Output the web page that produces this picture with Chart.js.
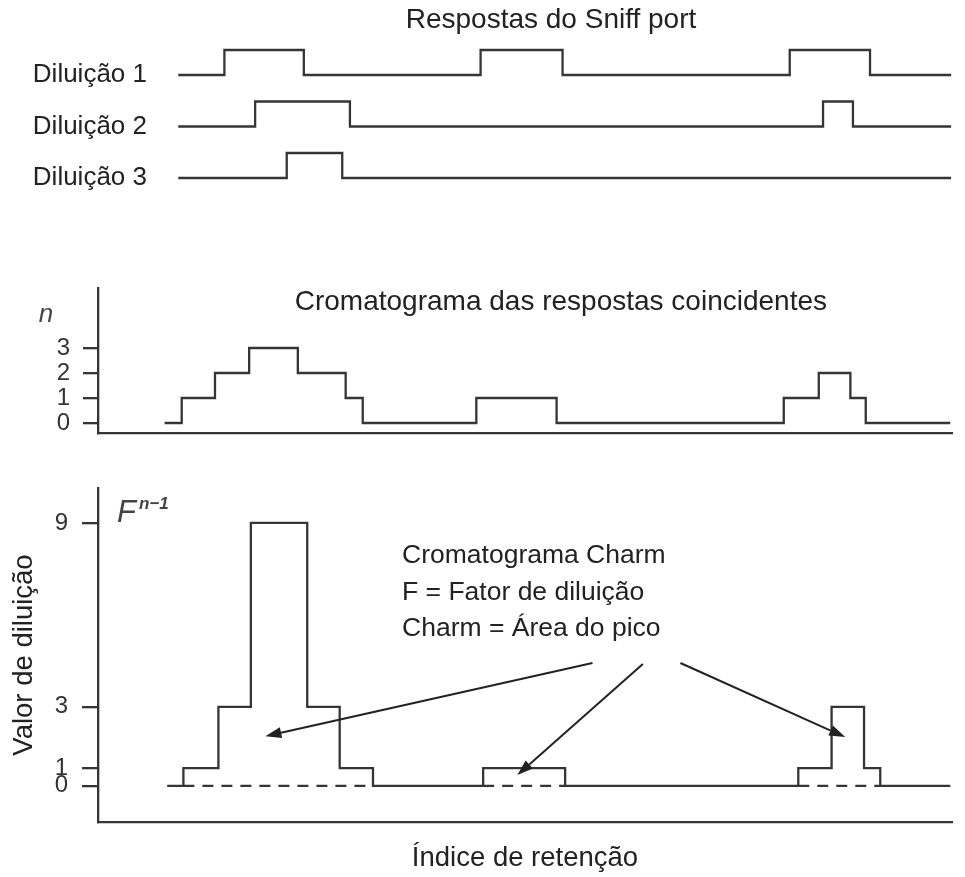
<!DOCTYPE html>
<html><head><meta charset="utf-8">
<script src="https://cdn.jsdelivr.net/npm/chart.js@4.4.1/dist/chart.umd.min.js"></script>
<style>
html,body{margin:0;padding:0;background:#fff;}
#wrap{position:relative;width:965px;height:877px;overflow:hidden;background:#fff;}
canvas{position:absolute;left:0;}
</style></head><body>
<div id="wrap">
<canvas id="c1" width="965" height="200" style="top:0px"></canvas>
<canvas id="c2" width="965" height="245" style="top:200px"></canvas>
<canvas id="c3" width="965" height="432" style="top:445px"></canvas>
</div>
<script>
// ---------------- data ----------------
const TITLE_TOP = 'Respostas do Sniff port';
const TITLE_MID = 'Cromatograma das respostas coincidentes';
const DILUTION_LABELS = ['Diluição 1', 'Diluição 2', 'Diluição 3'];
// retention index (arbitrary units) where each level starts; level holds until next breakpoint
const DIL1_X = [9.4, 14.8, 24.1, 44.8, 54.4, 81.0, 90.4, 99.9];
const DIL1_R = [0, 1, 0, 1, 0, 1, 0, 0];
const DIL2_X = [9.4, 18.4, 29.5, 84.9, 88.4, 99.9];
const DIL2_R = [0, 1, 0, 1, 0, 0];
const DIL3_X = [9.4, 22.1, 28.6, 99.9];
const DIL3_R = [0, 1, 0, 0];
const N_X   = [7.8, 9.8, 13.7, 17.7, 23.4, 29.0, 31.0, 44.3, 53.7, 80.3, 84.4, 88.1, 89.9, 99.8];
const N_VAL = [0, 1, 2, 3, 2, 1, 0, 1, 0, 1, 2, 1, 0, 0];
const N_TICKS = [0, 1, 2, 3];
const CHARM_X   = [8.1, 10.0, 14.1, 17.9, 24.5, 28.3, 32.2, 45.1, 54.7, 82.0, 85.9, 89.7, 91.6, 99.8];
const CHARM_VAL = [0, 1, 3, 9, 3, 1, 0, 1, 0, 1, 3, 1, 0, 0];
const CHARM_TICKS = [0, 1, 3, 9];
const NOTE_LINES = ['Cromatograma Charm', 'F = Fator de diluição', 'Charm = Área do pico'];
const X_TITLE = 'Índice de retenção';
const Y_TITLE = 'Valor de diluição';

// ---------------- annotation placement (data coordinates) ----------------
const MID_TITLE_AT = {x: 54.2, y: 4.84};
const NOTE_AT = {x: 35.6, y: [7.69, 6.50, 5.32]};
const ARROWS = [
  {from: {x: 57.9, y: 4.43}, to: {x: 19.6, y: 2.04}},
  {from: {x: 63.8, y: 4.40}, to: {x: 49.1, y: 0.77}},
  {from: {x: 68.2, y: 4.43}, to: {x: 87.5, y: 2.01}}
];

// ---------------- layout / style ----------------
const X_MIN = 0, X_MAX = 100;
const PLOT_LEFT = 98, PLOT_RIGHT = 952, CANVAS_W = 965;
const LINE = '#353535';
const LW = 2.3;
const FONT = '"Liberation Sans", Arial, sans-serif';
const TXT = '#222';
const ZERO_POS = 0.42; // where the "0" baseline sits on the Charm axis (drawn below level 1)

const steps = (xs, vs, f) => xs.map((x, i) => ({x: x, y: f ? f(vs[i]) : vs[i]}));
const fixWidth = w => s => { s.width = w; s.paddingTop = 0; s.paddingBottom = 0; };
const common = {
  responsive: false, maintainAspectRatio: false, animation: false, events: [],
  elements: {point: {radius: 0}, line: {tension: 0}}
};

// ---------------- chart 1: sniff port responses ----------------
const C1_LEFT = 150;
const xMinTop = X_MIN + (C1_LEFT - PLOT_LEFT) / (PLOT_RIGHT - PLOT_LEFT) * (X_MAX - X_MIN);
const dils = [[DIL1_X, DIL1_R], [DIL2_X, DIL2_R], [DIL3_X, DIL3_R]];
const scales1 = {x: {type: 'linear', min: xMinTop, max: X_MAX, display: false}};
// left stacked axes are placed bottom-up in definition order, so define the last dilution first
for (let i = dils.length - 1; i >= 0; i--) {
  scales1['y' + i] = {
    type: 'linear', position: 'left', stack: 'dil', stackWeight: 1,
    min: -0.66, max: 1.4,
    afterFit: fixWidth(C1_LEFT),
    afterBuildTicks: s => { s.ticks = [{value: 0}]; },
    ticks: {autoSkip: false, padding: 3, color: TXT, font: {family: FONT, size: 26},
            callback: () => DILUTION_LABELS[i]},
    grid: {display: false, drawTicks: false},
    border: {display: false}
  };
}
new Chart(document.getElementById('c1'), {
  type: 'line',
  data: {datasets: dils.map((d, i) => ({
    data: steps(d[0], d[1]), yAxisID: 'y' + i, stepped: true,
    borderColor: LINE, borderWidth: LW, fill: false
  }))},
  options: Object.assign({}, common, {
    layout: {padding: {left: 0, right: CANVAS_W - PLOT_RIGHT, top: 0, bottom: 5.5}},
    scales: scales1,
    plugins: {
      legend: {display: false}, tooltip: {enabled: false},
      title: {display: true, text: TITLE_TOP, fullSize: false, color: TXT,
              font: {family: FONT, size: 28, weight: 'normal'}, padding: {top: 3.2, bottom: 3.2}}
    }
  })
});

// ---------------- chart 2: coincident responses ----------------
const midDeco = {
  id: 'midDeco',
  afterDraw(chart) {
    const {ctx, chartArea: a, scales: {x, y}} = chart;
    ctx.save();
    ctx.fillStyle = TXT;
    ctx.font = '28px ' + FONT;
    ctx.textAlign = 'center'; ctx.textBaseline = 'middle';
    ctx.fillText(TITLE_MID, x.getPixelForValue(MID_TITLE_AT.x), y.getPixelForValue(MID_TITLE_AT.y));
    ctx.fillStyle = '#444';
    ctx.font = 'italic 26px ' + FONT;
    ctx.fillText('n', a.left - 52, y.getPixelForValue(3) - 33);
    ctx.restore();
  }
};
new Chart(document.getElementById('c2'), {
  type: 'line',
  data: {datasets: [{data: steps(N_X, N_VAL), stepped: true, borderColor: LINE, borderWidth: LW, fill: false}]},
  options: Object.assign({}, common, {
    layout: {padding: {left: 0, right: CANVAS_W - PLOT_RIGHT, top: 88, bottom: 12}},
    scales: {
      x: {type: 'linear', min: X_MIN, max: X_MAX,
          ticks: {display: false}, grid: {display: false, drawTicks: false},
          border: {display: true, color: LINE, width: LW}},
      y: {type: 'linear', min: -0.4, max: 5.4,
          afterFit: fixWidth(PLOT_LEFT),
          afterBuildTicks: s => { s.ticks = N_TICKS.map(v => ({value: v})); },
          ticks: {autoSkip: false, padding: 13, color: '#333', font: {family: FONT, size: 24},
                  callback: (v, i) => String(N_TICKS[i])},
          grid: {display: true, drawOnChartArea: false, drawTicks: true, tickLength: 15, color: LINE, lineWidth: LW},
          border: {display: true, color: LINE, width: LW}}
    },
    plugins: {legend: {display: false}, tooltip: {enabled: false}}
  }),
  plugins: [midDeco]
});

// ---------------- chart 3: Charm chromatogram ----------------
const disp = v => (v === 0 ? ZERO_POS : v);
const dashPts = [];
let segStart = null;
CHARM_VAL.forEach((v, i) => {
  if (v > 0 && (i === 0 || CHARM_VAL[i - 1] === 0)) segStart = CHARM_X[i];
  if (v === 0 && i > 0 && CHARM_VAL[i - 1] > 0) {
    dashPts.push({x: segStart, y: ZERO_POS}, {x: CHARM_X[i], y: ZERO_POS}, {x: CHARM_X[i], y: null});
  }
});
function arrow(ctx, x0, y0, x1, y1) {
  const ang = Math.atan2(y1 - y0, x1 - x0), L = 16, W = 5.5;
  const bx = x1 - L * Math.cos(ang), by = y1 - L * Math.sin(ang);
  ctx.beginPath(); ctx.moveTo(x0, y0); ctx.lineTo(bx, by); ctx.stroke();
  ctx.beginPath(); ctx.moveTo(x1, y1);
  ctx.lineTo(bx - W * Math.sin(ang), by + W * Math.cos(ang));
  ctx.lineTo(bx + W * Math.sin(ang), by - W * Math.cos(ang));
  ctx.closePath(); ctx.fill();
}
const charmDeco = {
  id: 'charmDeco',
  afterDraw(chart) {
    const {ctx, chartArea: a, scales: {x, y}} = chart;
    ctx.save();
    ctx.textAlign = 'left'; ctx.textBaseline = 'alphabetic';
    ctx.fillStyle = '#444';
    ctx.font = 'italic 31px ' + FONT;
    const fx = a.left + 19, fy = a.top + 34;
    ctx.fillText('F', fx, fy);
    const fw = ctx.measureText('F').width;
    ctx.font = 'italic bold 17px ' + FONT;
    ctx.fillText('n\u22121', fx + fw + 3, fy - 13);
    ctx.fillStyle = TXT;
    ctx.font = '26.5px ' + FONT;
    NOTE_LINES.forEach((t, i) => ctx.fillText(t, x.getPixelForValue(NOTE_AT.x), y.getPixelForValue(NOTE_AT.y[i])));
    ctx.strokeStyle = '#222'; ctx.fillStyle = '#222'; ctx.lineWidth = 2;
    ARROWS.forEach(ar => arrow(ctx,
      x.getPixelForValue(ar.from.x), y.getPixelForValue(ar.from.y),
      x.getPixelForValue(ar.to.x), y.getPixelForValue(ar.to.y)));
    ctx.restore();
  }
};
new Chart(document.getElementById('c3'), {
  type: 'line',
  data: {datasets: [
    {data: steps(CHARM_X, CHARM_VAL, disp), stepped: true, borderColor: LINE, borderWidth: LW, fill: false},
    {data: dashPts, spanGaps: false, borderColor: LINE, borderWidth: LW, borderDash: [11, 8], fill: false}
  ]},
  options: Object.assign({}, common, {
    layout: {padding: {left: 0, right: CANVAS_W - PLOT_RIGHT, top: 43, bottom: 0}},
    scales: {
      x: {type: 'linear', min: X_MIN, max: X_MAX,
          ticks: {display: false}, grid: {display: false, drawTicks: false},
          border: {display: true, color: LINE, width: LW},
          title: {display: true, text: X_TITLE, color: TXT, font: {family: FONT, size: 27.5},
                  padding: {top: 19.5, bottom: 2.5}}},
      y: {type: 'linear', min: -0.76, max: 10.14,
          afterFit: fixWidth(PLOT_LEFT),
          afterBuildTicks: s => { s.ticks = CHARM_TICKS.map(v => ({value: disp(v)})); },
          ticks: {autoSkip: false, padding: 14, color: '#333', font: {family: FONT, size: 24},
                  callback: (v, i) => String(CHARM_TICKS[i])},
          grid: {display: true, drawOnChartArea: false, drawTicks: true, tickLength: 16, color: LINE, lineWidth: LW},
          border: {display: true, color: LINE, width: LW},
          title: {display: true, text: Y_TITLE, color: TXT, font: {family: FONT, size: 27.5},
                  padding: {top: 7.5, bottom: 0}}}
    },
    plugins: {legend: {display: false}, tooltip: {enabled: false}}
  }),
  plugins: [charmDeco]
});
</script>
</body></html>
